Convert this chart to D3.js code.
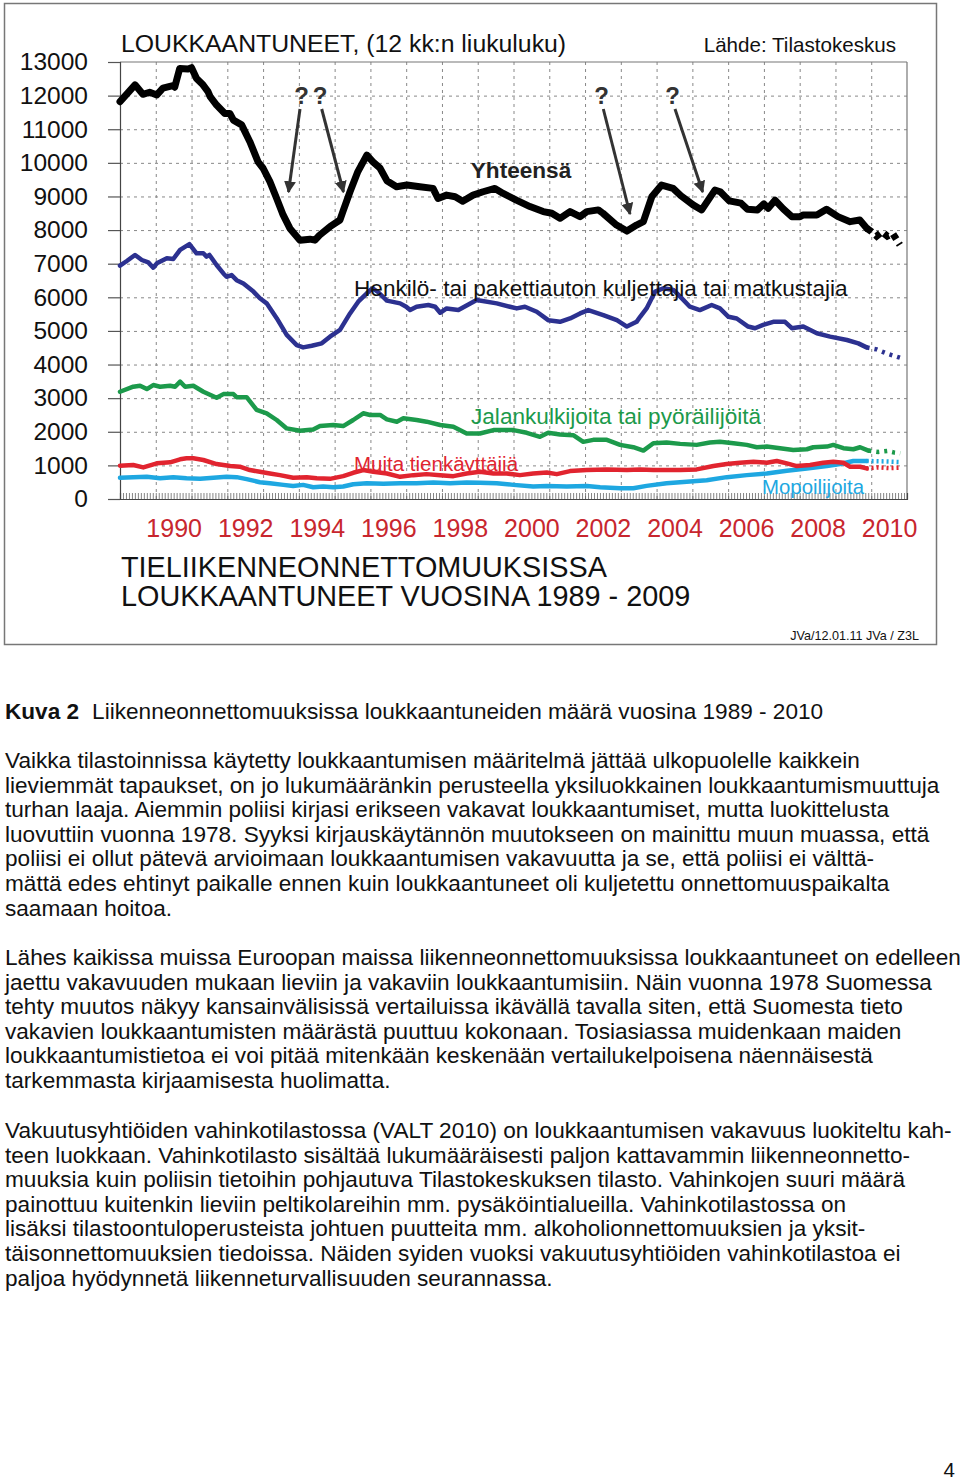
<!DOCTYPE html>
<html><head><meta charset="utf-8">
<script src="https://cdn.jsdelivr.net/npm/d3@7"></script>
<style>
body{margin:0;background:#fff;}
svg{display:block;font-family:"Liberation Sans",Arial,Helvetica,sans-serif;}
</style></head>
<body>
<svg id="c" width="960" height="1481"></svg>
<script>
// ---- DATA (decimal year, injured persons, 12-month moving sum) ----
const total = [[1989.00,11820],[1989.42,12320],[1989.64,12040],[1989.83,12100],[1990.03,12020],[1990.20,12220],[1990.48,12300],[1990.53,12250],[1990.67,12810],[1990.90,12790],[1991.00,12830],[1991.14,12510],[1991.32,12320],[1991.46,12120],[1991.52,11970],[1991.70,11720],[1991.93,11470],[1992.07,11470],[1992.17,11270],[1992.40,11130],[1992.63,10630],[1992.86,10030],[1993.00,9840],[1993.19,9440],[1993.38,8940],[1993.56,8450],[1993.75,8050],[1994.03,7700],[1994.31,7730],[1994.45,7700],[1994.58,7850],[1994.87,8100],[1995.15,8300],[1995.23,8550],[1995.43,9140],[1995.65,9740],[1995.90,10230],[1996.07,10030],[1996.27,9840],[1996.46,9470],[1996.73,9290],[1997.02,9340],[1997.38,9290],[1997.75,9240],[1997.89,8940],[1998.13,9040],[1998.37,8990],[1998.58,8860],[1998.87,9040],[1999.15,9140],[1999.48,9240],[1999.71,9090],[2000.08,8890],[2000.46,8700],[2000.83,8550],[2001.07,8500],[2001.30,8350],[2001.58,8550],[2001.86,8400],[2002.05,8550],[2002.37,8600],[2002.50,8500],[2002.88,8150],[2003.17,7970],[2003.44,8150],[2003.63,8250],[2003.87,9000],[2004.14,9340],[2004.46,9240],[2004.68,9020],[2005.02,8750],[2005.26,8600],[2005.63,9190],[2005.78,9140],[2006.03,8870],[2006.36,8800],[2006.54,8620],[2006.82,8600],[2007.00,8780],[2007.12,8650],[2007.31,8890],[2007.54,8630],[2007.78,8400],[2008.01,8400],[2008.10,8450],[2008.48,8450],[2008.75,8620],[2009.07,8400],[2009.41,8250],[2009.68,8300],[2009.88,8050]];
const totalPrelim = [[2009.88,8050],[2010.01,7950],[2010.15,7820],[2010.30,7950],[2010.45,7820],[2010.60,7900],[2010.80,7560]];

const cars = [[1989.00,6940],[1989.19,7080],[1989.42,7260],[1989.61,7110],[1989.79,7040],[1989.93,6880],[1990.03,7010],[1990.31,7160],[1990.49,7140],[1990.68,7410],[1990.94,7580],[1991.14,7310],[1991.33,7310],[1991.42,7210],[1991.50,7260],[1991.70,6960],[1991.89,6710],[1991.98,6610],[1992.12,6660],[1992.26,6510],[1992.45,6410],[1992.73,6170],[1992.91,5970],[1993.10,5820],[1993.38,5380],[1993.66,4880],[1993.94,4580],[1994.12,4510],[1994.36,4560],[1994.64,4630],[1994.87,4830],[1995.15,5030],[1995.43,5520],[1995.66,5870],[1995.90,6120],[1996.06,6270],[1996.22,6150],[1996.46,5900],[1996.83,5820],[1997.00,5720],[1997.11,5620],[1997.29,5720],[1997.62,5770],[1997.81,5720],[1997.95,5540],[1998.13,5670],[1998.46,5620],[1998.97,5920],[1999.53,5820],[1999.90,5720],[2000.09,5670],[2000.32,5720],[2000.65,5570],[2000.97,5320],[2001.30,5270],[2001.58,5370],[2001.86,5520],[2002.09,5620],[2002.51,5470],[2002.89,5320],[2003.17,5130],[2003.44,5270],[2003.54,5420],[2003.72,5670],[2003.96,6170],[2004.19,6270],[2004.47,6220],[2004.66,6020],[2004.93,5720],[2005.21,5620],[2005.54,5770],[2005.77,5670],[2006.01,5420],[2006.24,5370],[2006.56,5130],[2006.75,5080],[2006.98,5180],[2007.26,5270],[2007.59,5270],[2007.78,5080],[2008.10,5130],[2008.48,4930],[2008.85,4830],[2009.32,4730],[2009.64,4630],[2009.87,4510]];
const carsPrelim = [[2009.87,4510],[2010.15,4450],[2010.43,4330],[2010.81,4200]];

const pedestrians = [[1989.00,3190],[1989.37,3340],[1989.56,3370],[1989.75,3270],[1989.93,3390],[1990.12,3340],[1990.40,3370],[1990.54,3340],[1990.68,3490],[1990.82,3340],[1991.05,3370],[1991.33,3190],[1991.70,3010],[1991.89,3120],[1992.17,3120],[1992.26,3030],[1992.54,3030],[1992.82,2650],[1993.10,2550],[1993.38,2350],[1993.66,2100],[1994.03,2030],[1994.40,2070],[1994.59,2170],[1994.96,2200],[1995.24,2170],[1995.52,2350],[1995.80,2550],[1995.99,2500],[1996.27,2500],[1996.46,2370],[1996.74,2300],[1996.92,2400],[1997.29,2350],[1997.57,2300],[1997.95,2200],[1998.32,2150],[1998.69,1950],[1999.06,1950],[1999.44,2050],[2000.00,2050],[2000.37,1970],[2000.74,1850],[2000.97,1970],[2001.30,1920],[2001.67,1900],[2001.95,1700],[2002.23,1760],[2002.61,1760],[2002.98,1610],[2003.35,1540],[2003.63,1440],[2003.91,1660],[2004.28,1680],[2004.66,1640],[2005.12,1610],[2005.49,1680],[2005.77,1700],[2006.15,1660],[2006.52,1610],[2006.80,1540],[2007.08,1560],[2007.45,1510],[2007.82,1460],[2008.20,1480],[2008.38,1540],[2008.76,1560],[2008.94,1610],[2009.22,1510],[2009.50,1480],[2009.69,1540],[2009.92,1440]];
const pedestriansPrelim = [[2009.92,1440],[2010.20,1400],[2010.45,1430],[2010.65,1380],[2010.81,1360]];

const others = [[1989.00,990],[1989.37,1010],[1989.65,940],[1990.03,1060],[1990.40,1090],[1990.68,1180],[1990.86,1210],[1991.05,1210],[1991.33,1160],[1991.70,1040],[1992.08,980],[1992.35,960],[1992.63,860],[1992.91,810],[1993.19,760],[1993.47,710],[1993.84,630],[1994.22,650],[1994.50,620],[1994.87,600],[1995.24,680],[1995.52,780],[1995.80,860],[1996.08,810],[1996.46,760],[1996.83,660],[1997.20,710],[1997.57,740],[1997.95,710],[1998.32,680],[1998.69,760],[1999.06,810],[1999.44,760],[1999.81,760],[2000.18,710],[2000.55,760],[2000.93,790],[2001.21,740],[2001.58,830],[2002.05,860],[2002.61,880],[2003.17,860],[2003.54,880],[2003.91,860],[2004.28,860],[2004.66,860],[2005.12,880],[2005.59,980],[2005.96,1040],[2006.33,1080],[2006.71,1110],[2007.08,1080],[2007.36,1130],[2007.64,1060],[2007.92,980],[2008.29,1010],[2008.66,1080],[2008.94,1110],[2009.22,1080],[2009.41,960],[2009.69,960],[2009.87,910]];
const othersPrelim = [[2009.87,910],[2010.20,940],[2010.50,920],[2010.81,930]];

const mopeds = [[1989.00,630],[1989.37,650],[1989.75,660],[1990.12,620],[1990.49,650],[1990.86,620],[1991.24,600],[1991.61,630],[1991.98,660],[1992.26,650],[1992.54,590],[1992.91,500],[1993.19,470],[1993.57,420],[1993.84,390],[1994.12,420],[1994.40,350],[1994.68,370],[1994.96,350],[1995.24,370],[1995.52,440],[1995.90,470],[1996.36,450],[1996.83,470],[1997.29,470],[1997.76,490],[1998.23,470],[1998.69,490],[1999.06,480],[1999.53,470],[2000.00,420],[2000.55,370],[2000.93,390],[2001.49,370],[2002.05,390],[2002.42,350],[2002.98,320],[2003.35,320],[2003.72,390],[2004.28,470],[2004.84,510],[2005.40,560],[2005.96,650],[2006.52,710],[2007.08,760],[2007.64,840],[2008.20,910],[2008.76,980],[2009.13,1040],[2009.50,1130],[2009.87,1130]];
const mopedsPrelim = [[2009.87,1130],[2010.30,1120],[2010.81,1100]];

const yTicks = [0,1000,2000,3000,4000,5000,6000,7000,8000,9000,10000,11000,12000,13000];
const yearLabels = [1990,1992,1994,1996,1998,2000,2002,2004,2006,2008,2010];
const gridYears = [1990,1991,1992,1993,1994,1995,1996,1997,1998,1999,2000,2001,2002,2003,2004,2005,2006,2007,2008,2009,2010];

const series = [
  {name:"mopeds", data:mopeds, prelim:mopedsPrelim, color:"#1ea7e1", w:4.5, dash:"2,3"},
  {name:"others", data:others, prelim:othersPrelim, color:"#e1242f", w:4.5, dash:"2,3"},
  {name:"pedestrians", data:pedestrians, prelim:pedestriansPrelim, color:"#1c9a4b", w:4.5, dash:"3,5"},
  {name:"cars", data:cars, prelim:carsPrelim, color:"#2c3190", w:4.5, dash:"3,5"},
  {name:"total", data:total, prelim:totalPrelim, color:"#000000", w:7, dash:"6,5"}
];

const svg = d3.select("#c");
const L=120,R=907,T=62,B=499;
const x = d3.scaleLinear().domain([1989,2011]).range([L,R]);
const y = d3.scaleLinear().domain([0,13000]).range([B,T]);

// outer frame
svg.append("rect").attr("x",4.5).attr("y",3.5).attr("width",932).attr("height",641)
  .attr("fill","none").attr("stroke","#777").attr("stroke-width",1.5);

// gridlines
const g = svg.append("g");
g.append("g").attr("transform",`translate(0,${B})`)
  .call(d3.axisBottom(x).tickValues(gridYears).tickSize(-(B-T)).tickFormat(""))
  .call(s=>{s.select(".domain").remove(); s.selectAll("line").attr("stroke","#888").attr("stroke-dasharray","3,4");});
g.append("g").attr("transform",`translate(${L},0)`)
  .call(d3.axisLeft(y).tickValues(yTicks.slice(1,-1)).tickSize(-(R-L)).tickFormat(""))
  .call(s=>{s.select(".domain").remove(); s.selectAll("line").attr("stroke","#888").attr("stroke-dasharray","3,4");});

// plot frame top/right
svg.append("line").attr("x1",L).attr("x2",R).attr("y1",T).attr("y2",T).attr("stroke","#777").attr("stroke-width",1.2);
svg.append("line").attr("x1",R).attr("x2",R).attr("y1",T).attr("y2",B).attr("stroke","#777").attr("stroke-width",1.2);

// monthly minor ticks on x axis
const months = d3.range(1989, 2011, 1/12);
svg.append("g").attr("transform",`translate(0,${B})`)
  .call(d3.axisBottom(x).tickValues(months).tickSize(-6).tickFormat(""))
  .call(s=>{s.select(".domain").attr("stroke","#444").attr("stroke-width",1.2); s.selectAll("line").attr("stroke","#666").attr("stroke-width",0.8);});

// y axis
svg.append("g").attr("transform",`translate(${L},0)`)
  .call(d3.axisLeft(y).tickValues(yTicks).tickSize(12).tickPadding(20).tickFormat(d3.format("d")))
  .call(s=>{s.select(".domain").attr("stroke","#444").attr("stroke-width",1.2);
    s.selectAll("line").attr("stroke","#555").attr("stroke-width",1.2);
    s.selectAll("text").attr("font-size",24.5).attr("fill","#111").attr("font-family","Liberation Sans, Arial, sans-serif");});

// x year labels (centered in the year)
svg.append("g").attr("transform",`translate(0,${B})`)
  .call(d3.axisBottom(x).tickValues(yearLabels.map(d=>d+0.5)).tickSize(0).tickPadding(20).tickFormat(d=>Math.floor(d)))
  .call(s=>{s.select(".domain").remove();
    s.selectAll("text").attr("font-size",25).attr("fill","#c8262e").attr("font-family","Liberation Sans, Arial, sans-serif");});

// lines
const line = d3.line().x(d=>x(d[0])).y(d=>y(d[1])).curve(d3.curveLinear);
const lg = svg.append("g");
series.forEach(s=>{
  lg.append("path").datum(s.data).attr("d",line).attr("fill","none").attr("stroke",s.color)
    .attr("stroke-width",s.w).attr("stroke-linejoin","round").attr("stroke-linecap","round");
  lg.append("path").datum(s.prelim).attr("d",line).attr("fill","none").attr("stroke",s.color)
    .attr("stroke-width",s.w).attr("stroke-dasharray",s.dash);
});

// arrows
const defs = svg.append("defs");
defs.append("marker").attr("id","ah").attr("viewBox","0 0 10 10").attr("refX",9).attr("refY",5)
  .attr("markerWidth",4).attr("markerHeight",4.5).attr("orient","auto").attr("markerUnits","strokeWidth")
  .append("path").attr("d","M0,0 L10,5 L0,10 Z").attr("fill","#333");
const arrows = [
  {q:[301.5,104], from:[300,109], to:[288.5,192]},
  {q:[320,104], from:[321.7,109], to:[343.5,192]},
  {q:[601.5,104], from:[603.3,109], to:[630,214]},
  {q:[672.5,104], from:[675,109], to:[702.7,192]}
];
arrows.forEach(a=>{
  svg.append("line").attr("x1",a.from[0]).attr("y1",a.from[1]).attr("x2",a.to[0]).attr("y2",a.to[1])
    .attr("stroke","#333").attr("stroke-width",3).attr("marker-end","url(#ah)");
  svg.append("text").attr("x",a.q[0]).attr("y",a.q[1]).attr("text-anchor","middle")
    .attr("font-size",24).attr("font-weight","bold").attr("fill","#333").text("?");
});

// labels
const lab = (t,xx,yy,opt={})=>svg.append("text").attr("x",xx).attr("y",yy)
  .attr("font-size",opt.size||20).attr("fill",opt.color||"#111").attr("font-weight",opt.weight||"normal")
  .attr("text-anchor",opt.anchor||"start").text(t);
lab("LOUKKAANTUNEET, (12 kk:n liukuluku)",121,52,{size:24.8});
lab("Lähde: Tilastokeskus",896,52,{size:20.6,anchor:"end"});
lab("Yhteensä",521,178,{size:22.6,weight:"bold",anchor:"middle",color:"#222"});
lab("Henkilö- tai pakettiauton kuljettajia tai matkustajia",354,296,{size:22.6});
lab("Jalankulkijoita tai pyöräilijöitä",471,424,{size:22.6,color:"#1c9a4b"});
lab("Muita tienkäyttäjiä",354,471,{size:20.5,color:"#e1242f"});
lab("Mopoilijoita",762,494,{size:20.4,color:"#1ea7e1"});
lab("TIELIIKENNEONNETTOMUUKSISSA",121,577,{size:28.8});
lab("LOUKKAANTUNEET VUOSINA 1989 - 2009",121,606,{size:28.8});
lab("JVa/12.01.11 JVa / Z3L",919,640,{size:12.6,anchor:"end"});

// body text
const BODY = 22.6;
const caption = svg.append("text").attr("x",5).attr("y",719).attr("font-size",BODY).attr("fill","#111");
caption.append("tspan").attr("font-weight","bold").text("Kuva 2");
caption.append("tspan").attr("dx",13).text("Liikenneonnettomuuksissa loukkaantuneiden määrä vuosina 1989 - 2010");

const para1 = ["Vaikka tilastoinnissa käytetty loukkaantumisen määritelmä jättää ulkopuolelle kaikkein",
"lieviemmät tapaukset, on jo lukumääränkin perusteella yksiluokkainen loukkaantumismuuttuja",
"turhan laaja. Aiemmin poliisi kirjasi erikseen vakavat loukkaantumiset, mutta luokittelusta",
"luovuttiin vuonna 1978. Syyksi kirjauskäytännön muutokseen on mainittu muun muassa, että",
"poliisi ei ollut pätevä arvioimaan loukkaantumisen vakavuutta ja se, että poliisi ei välttä-",
"mättä edes ehtinyt paikalle ennen kuin loukkaantuneet oli kuljetettu onnettomuuspaikalta",
"saamaan hoitoa."];
const para2 = ["Lähes kaikissa muissa Euroopan maissa liikenneonnettomuuksissa loukkaantuneet on edelleen",
"jaettu vakavuuden mukaan lieviin ja vakaviin loukkaantumisiin. Näin vuonna 1978 Suomessa",
"tehty muutos näkyy kansainvälisissä vertailuissa ikävällä tavalla siten, että Suomesta tieto",
"vakavien loukkaantumisten määrästä puuttuu kokonaan. Tosiasiassa muidenkaan maiden",
"loukkaantumistietoa ei voi pitää mitenkään keskenään vertailukelpoisena näennäisestä",
"tarkemmasta kirjaamisesta huolimatta."];
const para3 = ["Vakuutusyhtiöiden vahinkotilastossa (VALT 2010) on loukkaantumisen vakavuus luokiteltu kah-",
"teen luokkaan. Vahinkotilasto sisältää lukumääräisesti paljon kattavammin liikenneonnetto-",
"muuksia kuin poliisin tietoihin pohjautuva Tilastokeskuksen tilasto. Vahinkojen suuri määrä",
"painottuu kuitenkin lieviin peltikolareihin mm. pysäköintialueilla. Vahinkotilastossa on",
"lisäksi tilastoontuloperusteista johtuen puutteita mm. alkoholionnettomuuksien ja yksit-",
"täisonnettomuuksien tiedoissa. Näiden syiden vuoksi vakuutusyhtiöiden vahinkotilastoa ei",
"paljoa hyödynnetä liikenneturvallisuuden seurannassa."];
const para = (lines, y0)=>lines.forEach((t,i)=>svg.append("text").attr("x",5).attr("y",y0+i*24.6)
  .attr("font-size",BODY).attr("fill","#111").text(t));
para(para1,768);
para(para2,965);
para(para3,1138);
lab("4",955,1477,{size:20.5,anchor:"end"});
</script>
</body></html>
